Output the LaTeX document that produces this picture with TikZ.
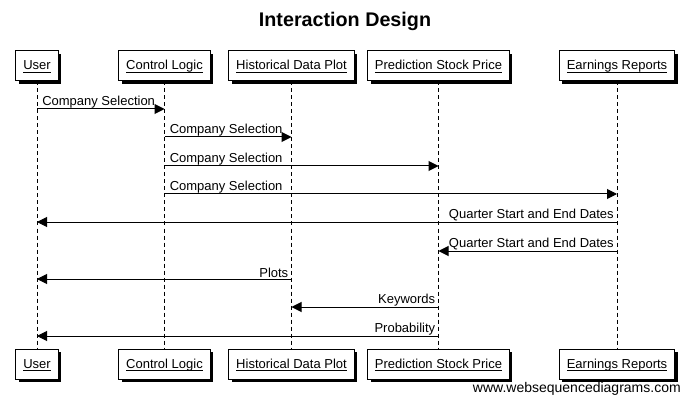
\documentclass[tikz,border=0pt]{standalone}
\usepackage{fontspec}
\usepackage{amsmath}
\setmainfont{Liberation Sans}
\usetikzlibrary{arrows.meta,shadows}
\newcommand\actname[1]{\underline{\smash[b]{#1}}}
\begin{document}
\begin{tikzpicture}[x=0.75pt,y=-0.75pt,
  actor/.style={draw=black, fill=white, line width=0.75pt, minimum height=22.5pt, inner xsep=5.5pt, text height=7.5pt, text depth=1.5pt, font=\fontsize{9.75}{11}\selectfont,
    drop shadow={shadow xshift=2.25pt, shadow yshift=-2.25pt, fill=black, opacity=1}},
  life/.style={draw=black, line width=0.75pt, dash pattern=on 3pt off 2.25pt},
  msg/.style={draw=black, line width=0.75pt, -{Triangle[length=7.5pt,width=7.5pt]}},
  lbl/.style={font=\fontsize{9.75}{11}\selectfont, inner sep=0.75pt}
]
\useasboundingbox (0,0) rectangle (690,403);
\node[font=\bfseries\fontsize{14.8}{16}\selectfont] (title) at (345,21) {Interaction Design};

% top actors
\node[actor] (uT) at (37,66) {\actname{User}};
\node[actor] (cT) at (164.5,66) {\actname{Control Logic}};
\node[actor] (hT) at (291.5,66) {\actname{Historical Data Plot}};
\node[actor] (pT) at (438.5,66) {\actname{Prediction Stock Price}};
\node[actor] (eT) at (617,66) {\actname{Earnings Reports}};
% bottom actors
\node[actor] (uB) at (37,364) {\actname{User}};
\node[actor] (cB) at (164.5,364) {\actname{Control Logic}};
\node[actor] (hB) at (291.5,364) {\actname{Historical Data Plot}};
\node[actor] (pB) at (438.5,364) {\actname{Prediction Stock Price}};
\node[actor] (eB) at (617,364) {\actname{Earnings Reports}};

% lifelines
\draw[life] (uT.south) -- (uB.north);
\draw[life] (cT.south) -- (cB.north);
\draw[life] (hT.south) -- (hB.north);
\draw[life] (pT.south) -- (pB.north);
\draw[life] (eT.south) -- (eB.north);

% message endpoints
\coordinate (u1) at (37,109);  \coordinate (c1) at (164.5,109);
\coordinate (c2) at (164.5,137); \coordinate (h2) at (291.5,137);
\coordinate (c3) at (164.5,166); \coordinate (p3) at (438.5,166);
\coordinate (c4) at (164.5,194); \coordinate (e4) at (617,194);
\coordinate (e5) at (617,222); \coordinate (u5) at (37,222);
\coordinate (e6) at (617,251); \coordinate (p6) at (438.5,251);
\coordinate (h7) at (291.5,279); \coordinate (u7) at (37,279);
\coordinate (p8) at (438.5,307); \coordinate (h8) at (291.5,307);
\coordinate (p9) at (438.5,336); \coordinate (u9) at (37,336);

\draw[msg] (u1) -- (c1);
\node[lbl, anchor=south west] (l1) at ([xshift=3pt]u1) {Company Selection};
\draw[msg] (c2) -- (h2);
\node[lbl, anchor=south west] (l2) at ([xshift=3pt]c2) {Company Selection};
\draw[msg] (c3) -- (p3);
\node[lbl, anchor=south west] (l3) at ([xshift=3pt]c3) {Company Selection};
\draw[msg] (c4) -- (e4);
\node[lbl, anchor=south west] (l4) at ([xshift=3pt]c4) {Company Selection};
\draw[msg] (e5) -- (u5);
\node[lbl, anchor=south east] (l5) at ([xshift=-1.5pt]e5) {Quarter Start and End Dates};
\draw[msg] (e6) -- (p6);
\node[lbl, anchor=south east] (l6) at ([xshift=-1.5pt]e6) {Quarter Start and End Dates};
\draw[msg] (h7) -- (u7);
\node[lbl, anchor=south east] (l7) at ([xshift=-1.5pt]h7) {Plots};
\draw[msg] (p8) -- (h8);
\node[lbl, anchor=south east] (l8) at ([xshift=-1.5pt]p8) {Keywords};
\draw[msg] (p9) -- (u9);
\node[lbl, anchor=south east] (l9) at ([xshift=-1.5pt]p9) {Probability};

\node[lbl, anchor=east, font=\fontsize{10.5}{12}\selectfont] (wm) at (682,389) {www.websequencediagrams.com};
\end{tikzpicture}
\end{document}
